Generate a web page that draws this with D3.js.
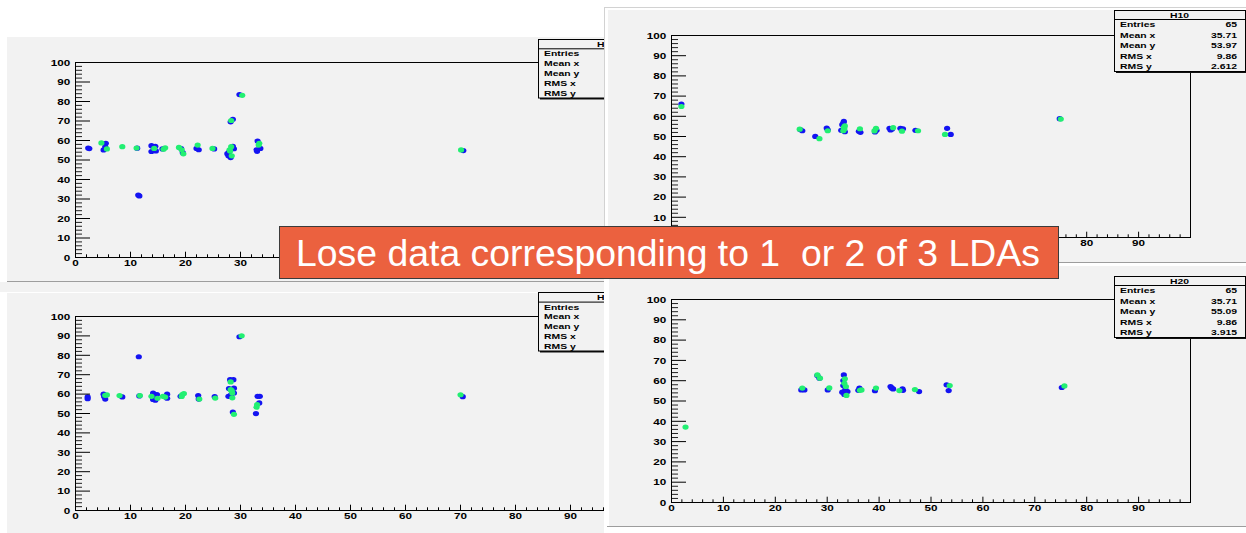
<!DOCTYPE html>
<html>
<head>
<meta charset="utf-8">
<script src="https://cdn.jsdelivr.net/npm/d3@7"></script>
<style>
  html, body { margin: 0; padding: 0; background: #ffffff; }
  svg { display: block; }
</style>
</head>
<body>
<svg id="chart" width="1246" height="533"></svg>
<script>
// ---------------- data ----------------
const xTickValues = [0, 10, 20, 30, 40, 50, 60, 70, 80, 90];
const yTickValues = [0, 10, 20, 30, 40, 50, 60, 70, 80, 90, 100];
const statsLabels = ["Entries", "Mean x", "Mean y", "RMS x", "RMS y"];
const h10Stats = ["65", "35.71", "53.97", "9.86", "2.612"];
const h20Stats = ["65", "35.71", "55.09", "9.86", "3.915"];
const bannerText = "Lose data corresponding to 1  or 2 of 3 LDAs";

// top-left histogram
const topLeftBlue = [
  [2.4, 55.9], [2.6, 55.6],
  [5.6, 58.3], [5.2, 54.9], [5.5, 56.5],
  [11.5, 31.8], [11.7, 31.3],
  [11.3, 55.8],
  [13.9, 57.1], [14.6, 56.8], [13.9, 54.1], [14.7, 54.4], [14.3, 56.0],
  [15.9, 55.4],
  [19.6, 53.5], [19.3, 55.6],
  [22.1, 55.7], [22.5, 55.0],
  [25.3, 55.4],
  [27.9, 51.9], [27.7, 53.0], [28.0, 53.8], [28.7, 56.8], [28.3, 51.0], [28.9, 55.5],
  [28.3, 69.3], [28.7, 70.6],
  [29.9, 83.3],
  [33.2, 59.5], [33.1, 54.2], [33.7, 55.7], [33.0, 55.0],
  [70.6, 54.6]
];
const topLeftGreen = [
  [4.8, 58.5], [5.8, 55.4],
  [8.6, 56.6],
  [11.2, 55.9],
  [14.4, 55.7],
  [16.4, 56.0], [16.1, 55.3],
  [18.9, 56.2], [19.4, 55.0], [19.7, 52.9],
  [22.3, 57.4],
  [25.0, 55.7],
  [28.1, 55.0], [28.4, 56.6], [28.5, 51.9], [28.2, 54.3],
  [28.4, 70.0],
  [30.4, 82.9],
  [33.5, 58.3], [33.4, 57.4],
  [70.2, 54.9]
];

// bottom-left histogram
const bottomLeftBlue = [
  [2.3, 58.3], [2.3, 57.4],
  [5.2, 59.7], [5.5, 57.2], [5.3, 58.5],
  [8.6, 58.3],
  [11.6, 79.0],
  [11.7, 58.8],
  [14.2, 60.3], [14.6, 56.6], [14.9, 59.5], [14.4, 58.0], [14.2, 57.0],
  [16.75, 59.7], [16.75, 57.6],
  [19.2, 58.6],
  [22.4, 59.0], [22.5, 57.2],
  [25.4, 58.4],
  [28.2, 67.2], [28.8, 67.2], [28.0, 62.6], [28.9, 60.3], [27.9, 58.6], [28.9, 62.8], [28.7, 50.5], [28.4, 59.5],
  [29.9, 89.3],
  [32.9, 49.7], [33.5, 55.2], [33.2, 58.6], [33.6, 58.6],
  [70.5, 58.4]
];
const bottomLeftGreen = [
  [5.5, 59.1], [5.8, 59.3],
  [8.1, 59.0],
  [11.8, 59.0],
  [13.9, 58.6], [15.0, 57.6],
  [16.0, 58.6], [16.4, 58.2],
  [19.5, 59.5], [19.8, 60.0], [19.4, 58.5],
  [22.6, 57.2],
  [25.5, 57.7],
  [28.3, 66.0], [28.3, 62.0], [28.6, 60.3], [28.6, 57.8], [28.5, 61.5], [28.9, 49.3],
  [30.3, 89.8],
  [33.0, 53.0], [33.1, 54.3],
  [70.1, 59.4]
];

// H10
const h10Blue = [
  [2.0, 65.8],
  [25.3, 52.6], [24.9, 53.2],
  [27.8, 49.8],
  [30.2, 53.1], [30.0, 53.9],
  [33.3, 57.2], [33.0, 55.6], [33.5, 52.1], [32.8, 52.8], [33.2, 56.4],
  [36.2, 52.3], [36.5, 51.8],
  [39.3, 52.0], [39.6, 52.8],
  [42.1, 53.8], [42.6, 53.5], [42.3, 53.0],
  [44.2, 53.8], [44.7, 53.6],
  [47.1, 52.8],
  [53.2, 53.8], [53.9, 50.8],
  [74.9, 58.6]
];
const h10Green = [
  [2.0, 64.6],
  [24.8, 53.4],
  [28.6, 48.7],
  [30.2, 52.6],
  [33.3, 54.3], [33.2, 52.6], [33.5, 55.0], [33.4, 53.5],
  [36.4, 53.6],
  [39.5, 53.8], [39.2, 52.5],
  [42.8, 54.1],
  [44.5, 52.4],
  [47.6, 52.6],
  [52.8, 50.8],
  [75.1, 58.4]
];

// H20
const h20Blue = [
  [25.1, 55.2], [25.7, 55.2],
  [28.2, 62.3], [28.6, 61.0],
  [30.2, 55.2],
  [33.3, 62.6], [33.2, 59.8], [33.2, 57.4], [33.0, 54.1], [33.4, 53.0], [34.0, 54.4], [33.6, 55.5],
  [36.3, 56.1], [36.1, 55.0],
  [39.3, 54.8],
  [42.3, 56.9], [42.8, 55.7], [42.5, 56.2],
  [44.6, 55.7], [44.7, 55.0],
  [47.8, 54.4],
  [53.1, 57.7], [53.5, 54.9],
  [75.3, 56.4]
];
const h20Green = [
  [2.8, 36.9],
  [25.3, 56.1],
  [28.2, 62.6], [28.7, 61.0],
  [30.5, 56.2],
  [33.5, 60.7], [33.7, 56.9], [33.8, 52.5], [33.4, 58.5],
  [36.7, 55.2], [36.4, 55.0],
  [39.5, 56.1],
  [44.0, 54.9],
  [47.0, 55.4],
  [53.7, 57.4],
  [75.8, 57.2]
];

// ---------------- drawing ----------------
const svg = d3.select("#chart");
const PAD_FILL = "#f2f2f2";
const SHADE = "#9d9d9d";
const BLUE = "#1414f2";
const GREEN = "#22ef72";
const FONT = "'Liberation Sans', Arial, Helvetica, sans-serif";
const STRETCH = 1.3;   // ROOT canvas text is drawn wide

// the banner hides part of the pads; labels under it are left out
const BANNER = { x: 279, y: 226, w: 780, h: 52 };
const underBanner = (px, py) =>
  px > BANNER.x - 10 && px < BANNER.x + BANNER.w + 10 && py > BANNER.y - 4 && py < BANNER.y + BANNER.h + 4;

const defs = svg.append("defs");
defs.append("clipPath").attr("id", "clipLeft")
  .append("rect").attr("x", 0).attr("y", 0).attr("width", 604).attr("height", 533);

function label(g, x, y, str, size, anchor) {
  return g.append("text")
    .attr("transform", `translate(${x},${y}) scale(${STRETCH},1)`)
    .attr("text-anchor", anchor || "start")
    .attr("dominant-baseline", "central")
    .style("font-family", FONT)
    .style("font-weight", "bold")
    .style("font-size", size + "px")
    .style("fill", "#000")
    .text(str);
}

function drawStats(g, box) {
  const { x, y, w, h, titleH, title, titleX, titleAnchor, values } = box;
  g.append("rect").attr("x", x + 2).attr("y", y + 2).attr("width", w).attr("height", h).attr("fill", "#111");
  g.append("rect").attr("x", x + 0.5).attr("y", y + 0.5).attr("width", w).attr("height", h)
    .attr("fill", PAD_FILL).attr("stroke", "#000").attr("stroke-width", 1);
  g.append("line").attr("x1", x).attr("x2", x + w).attr("y1", y + titleH + 0.5).attr("y2", y + titleH + 0.5)
    .attr("stroke", "#000").attr("stroke-width", 1);
  label(g, titleX, y + titleH / 2 + 0.8, title, 8, titleAnchor);
  const rowH = (h - titleH) / statsLabels.length;
  statsLabels.forEach((s, i) => {
    const cy = y + titleH + (i + 0.5) * rowH + 0.6;
    label(g, x + 6, cy, s, 8, "start");
    if (values) label(g, x + w - 8, cy, values[i], 8, "end");
  });
}

function drawPanel(layer, p) {
  const x = d3.scaleLinear().domain([0, 100]).range([p.left, p.right]);
  const y = d3.scaleLinear().domain([0, 100]).range([p.bottom, p.top]);
  const g = layer.append("g");

  const clipId = "frame-" + p.id;
  defs.append("clipPath").attr("id", clipId)
    .append("rect").attr("x", p.left).attr("y", p.top).attr("width", p.right - p.left + 1).attr("height", p.bottom - p.top + 1);

  // markers, blue set first then green on top
  const pts = g.append("g").attr("clip-path", `url(#${clipId})`);
  [[p.blue, BLUE], [p.green, GREEN]].forEach(([data, color]) => {
    pts.selectAll(null).data(data).enter().append("ellipse")
      .attr("cx", d => x(d[0])).attr("cy", d => y(d[1]))
      .attr("rx", 3.1).attr("ry", 2.6).attr("fill", color);
  });

  // y axis: minor and major ticks drawn inward
  const yMinor = d3.range(0, 101, 2).filter(v => v % 10 !== 0);
  g.append("g").attr("transform", `translate(${p.left},0)`)
    .call(d3.axisLeft(y).tickValues(yMinor).tickSizeInner(-7).tickSizeOuter(0).tickFormat(""))
    .call(a => a.select(".domain").remove())
    .call(a => a.selectAll("line").attr("stroke", "#222"));
  g.append("g").attr("transform", `translate(${p.left},0)`)
    .call(d3.axisLeft(y).tickValues(yTickValues).tickSizeInner(-15).tickSizeOuter(0).tickFormat(""))
    .call(a => a.select(".domain").remove())
    .call(a => a.selectAll("line").attr("stroke", "#000"));
  const yShown = yTickValues.filter(v => !underBanner(p.left - 10, y(v)));
  const yLab = g.append("g").attr("transform", `translate(${p.left},0)`)
    .call(d3.axisLeft(y).tickValues(yShown).tickSize(0).tickPadding(3.6).tickFormat(d3.format("d")));
  yLab.select(".domain").remove();
  yLab.selectAll("line").remove();
  yLab.selectAll("text")
    .attr("transform", `scale(${STRETCH},1)`).attr("dy", "0.36em")
    .style("font-family", FONT).style("font-weight", "bold").style("font-size", "9px").attr("fill", "#000");

  // x axis: ticks pointing up
  const xMinor = d3.range(0, 101, 2).filter(v => v % 10 !== 0);
  g.append("g").attr("transform", `translate(0,${p.bottom})`)
    .call(d3.axisBottom(x).tickValues(xMinor).tickSizeInner(-2.7).tickSizeOuter(0).tickFormat(""))
    .call(a => a.select(".domain").remove())
    .call(a => a.selectAll("line").attr("stroke", "#000"));
  g.append("g").attr("transform", `translate(0,${p.bottom})`)
    .call(d3.axisBottom(x).tickValues(xTickValues).tickSizeInner(-5.3).tickSizeOuter(0).tickFormat(""))
    .call(a => a.select(".domain").remove())
    .call(a => a.selectAll("line").attr("stroke", "#000"));
  const xShown = xTickValues.filter(v => x(v) < p.clipRight && !underBanner(x(v), p.bottom + 6));
  const xLab = g.append("g").attr("transform", `translate(0,${p.bottom})`)
    .call(d3.axisBottom(x).tickValues(xShown).tickSize(0).tickPadding(2.4).tickFormat(d3.format("d")));
  xLab.select(".domain").remove();
  xLab.selectAll("line").remove();
  xLab.selectAll("text")
    .attr("transform", `scale(${STRETCH},1)`)
    .style("font-family", FONT).style("font-weight", "bold").style("font-size", "9px").attr("fill", "#000");

  // frame
  g.append("rect")
    .attr("x", x(0) + 0.5).attr("y", y(100) + 0.5)
    .attr("width", x(100) - x(0)).attr("height", y(0) - y(100))
    .attr("fill", "none").attr("stroke", "#000").attr("stroke-width", 1);

  drawStats(g, p.stats);
}

// ---- left column of pads (partly hidden by the right column) ----
const left = svg.append("g").attr("clip-path", "url(#clipLeft)");
left.append("rect").attr("x", 7).attr("y", 37).attr("width", 597).attr("height", 244).attr("fill", PAD_FILL);
left.append("line").attr("x1", 7).attr("x2", 604).attr("y1", 281.5).attr("y2", 281.5).attr("stroke", SHADE).attr("stroke-width", 1.2);
left.append("rect").attr("x", 0).attr("y", 282).attr("width", 604).attr("height", 10).attr("fill", PAD_FILL);
left.append("rect").attr("x", 7).attr("y", 293).attr("width", 597).attr("height", 240).attr("fill", PAD_FILL);

drawPanel(left, {
  id: "tl", left: 75, right: 625, top: 62, bottom: 257, clipRight: 596,
  blue: topLeftBlue, green: topLeftGreen,
  stats: { x: 538, y: 39, w: 131, h: 58.5, titleH: 9.3, title: "H", titleX: 597, titleAnchor: "start" }
});
drawPanel(left, {
  id: "bl", left: 75, right: 625, top: 316, bottom: 510, clipRight: 596,
  blue: bottomLeftBlue, green: bottomLeftGreen,
  stats: { x: 538, y: 292, w: 131, h: 58.5, titleH: 9.6, title: "H", titleX: 597, titleAnchor: "start" }
});

// ---- right column of pads ----
const right = svg.append("g");
right.append("rect").attr("x", 604).attr("y", 7).attr("width", 642).attr("height", 256).attr("fill", "#ffffff");
right.append("line").attr("x1", 604.5).attr("x2", 604.5).attr("y1", 7).attr("y2", 263).attr("stroke", "#d2d2d2");
right.append("line").attr("x1", 604).attr("x2", 1246).attr("y1", 7.5).attr("y2", 7.5).attr("stroke", "#d2d2d2");
right.append("rect").attr("x", 608).attr("y", 10).attr("width", 638).attr("height", 252).attr("fill", PAD_FILL);
right.append("line").attr("x1", 604).attr("x2", 1246).attr("y1", 262.5).attr("y2", 262.5).attr("stroke", SHADE).attr("stroke-width", 1.2);
right.append("rect").attr("x", 604).attr("y", 263).attr("width", 642).attr("height", 270).attr("fill", "#ffffff");
right.append("rect").attr("x", 609).attr("y", 266).attr("width", 637).attr("height", 260).attr("fill", PAD_FILL);
right.append("line").attr("x1", 607).attr("x2", 1246).attr("y1", 526.5).attr("y2", 526.5).attr("stroke", SHADE).attr("stroke-width", 1.2);

const s10 = { x: 1114, y: 10, w: 131, h: 61, titleH: 9, title: "H10", titleX: 1179.5, titleAnchor: "middle", values: h10Stats };
const s20 = { x: 1114, y: 276, w: 131, h: 61, titleH: 9, title: "H20", titleX: 1179.5, titleAnchor: "middle", values: h20Stats };
drawPanel(right, { id: "h10", left: 671, right: 1190, top: 35, bottom: 237, clipRight: 1246, blue: h10Blue, green: h10Green, stats: s10 });
drawPanel(right, { id: "h20", left: 671, right: 1190, top: 299, bottom: 502, clipRight: 1246, blue: h20Blue, green: h20Green, stats: s20 });

// ---- banner ----
const banner = svg.append("g");
banner.append("rect")
  .attr("x", BANNER.x + 0.5).attr("y", BANNER.y + 0.5).attr("width", BANNER.w - 1).attr("height", BANNER.h)
  .attr("fill", "#eb613f").attr("stroke", "#3b3b3b").attr("stroke-width", 1);
const bt = banner.append("text")
  .attr("x", 296).attr("y", 265.5)
  .attr("xml:space", "preserve")
  .style("white-space", "pre")
  .style("font-family", "'Liberation Sans', Arial, sans-serif")
  .style("font-size", "36px")
  .style("fill", "#ffffff")
  .text(bannerText);
const natural = bt.node().getComputedTextLength();
bt.style("font-size", (36 * 744 / natural).toFixed(2) + "px");
</script>
</body>
</html>
